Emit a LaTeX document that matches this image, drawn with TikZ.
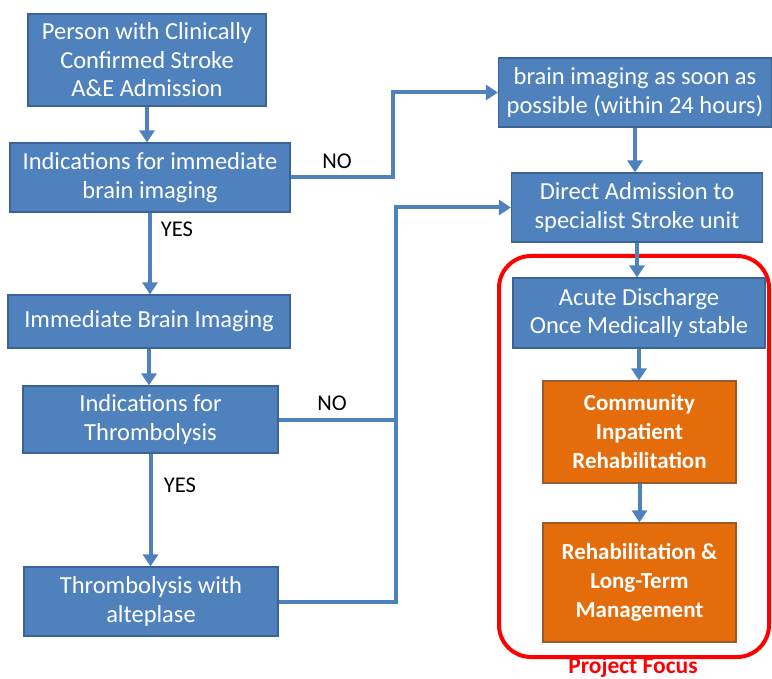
\documentclass[tikz,border=0pt]{standalone}
\usepackage{fontspec}
\setmainfont{Carlito}
\usetikzlibrary{arrows.meta,calc}
\definecolor{bfill}{HTML}{4F81BD}
\definecolor{bdraw}{HTML}{3A6496}
\definecolor{ofill}{HTML}{E46C0A}
\definecolor{odraw}{HTML}{9A5A2A}
\definecolor{arrc}{HTML}{4F81BD}
\begin{document}
\begin{tikzpicture}[x=1pt,y=-1pt,
  bluebox/.style={draw=bdraw,line width=1.2pt,fill=bfill,text=white,align=center,inner sep=0pt,
    font=\fontsize{24.5}{28.5}\selectfont},
  orangebox/.style={draw=odraw,line width=1.2pt,fill=ofill,text=white,align=center,inner sep=0pt,
    font=\fontsize{23}{29}\selectfont\bfseries},
  lbl/.style={font=\fontsize{22.5}{24}\selectfont,text=black,inner sep=0pt},
  conn/.style={draw=arrc,line width=4pt},
  arr/.style={conn,-{Triangle[width=15pt,length=12pt]}}]
\useasboundingbox (0,0) rectangle (772,679);
\node[bluebox,minimum width=238pt,minimum height=92pt] (b1) at (147,60) {Person with Clinically\\Confirmed Stroke\\A\&E Admission};
\node[bluebox,minimum width=280pt,minimum height=69pt] (b2) at (150,177.5) {Indications for immediate\\brain imaging};
\node[bluebox,minimum width=273pt,minimum height=69pt] (b3) at (635,92.5) {brain imaging as soon as\\possible (within 24 hours)};
\node[bluebox,minimum width=251pt,minimum height=69pt] (b4) at (637,207.5) {Direct Admission to\\specialist Stroke unit};
\node[bluebox,minimum width=282pt,minimum height=53pt] (b5) at (149,321.5) {Immediate Brain Imaging};
\node[bluebox,minimum width=255pt,minimum height=67pt] (b6) at (150.5,419.5) {Indications for\\Thrombolysis};
\node[bluebox,minimum width=254pt,minimum height=69pt] (b7) at (151,601.5) {Thrombolysis with\\alteplase};
\node[draw=red,line width=4pt,rounded corners=32pt,minimum width=270pt,minimum height=401pt,inner sep=0pt] (focus) at (634,456.5) {};
\node[bluebox,minimum width=252pt,minimum height=70pt] (b8) at (639,313) {Acute Discharge\\Once Medically stable};
\node[orangebox,minimum width=193pt,minimum height=102pt] (b9) at (639.5,432) {Community\\Inpatient\\Rehabilitation};
\node[orangebox,minimum width=193pt,minimum height=119pt] (b10) at (639.5,582.5) {Rehabilitation \&\\Long-Term\\Management};
\node[font=\fontsize{23.5}{24}\selectfont\bfseries,text=red,inner sep=0pt] (pf) at (633,667) {Project Focus};
\coordinate (j1) at (393,0);
\coordinate (j2) at (396,0);
% vertical arrows
\draw[arr] (b1.south) -- (b1.south |- b2.north);
\draw[arr] (b2.south) -- (b2.south |- b5.north);
\draw[arr] (b5.south) -- (b5.south |- b6.north);
\draw[arr] (b6.south) -- (b6.south |- b7.north);
\draw[arr] (b3.south) -- (b3.south |- b4.north);
\draw[arr] (b4.south) -- (b4.south |- b8.north);
\draw[arr] (b8.south) -- (b8.south |- b9.north);
\draw[arr] (b9.south) -- (b9.south |- b10.north);
% side connectors
\draw[arr] (b2.east) -- (b2.east -| j1) |- (b3.west);
\draw[arr] (b7.east) -- (b7.east -| j2) |- (b4.west);
\draw[conn] (b6.east) -- (b6.east -| j2);
% labels
\node[lbl] (no1) at (337,161) {NO};
\node[lbl] (no2) at (332,403) {NO};
\node[lbl] (yes1) at (177,229) {YES};
\node[lbl] (yes2) at (180,485) {YES};
\end{tikzpicture}
\end{document}
